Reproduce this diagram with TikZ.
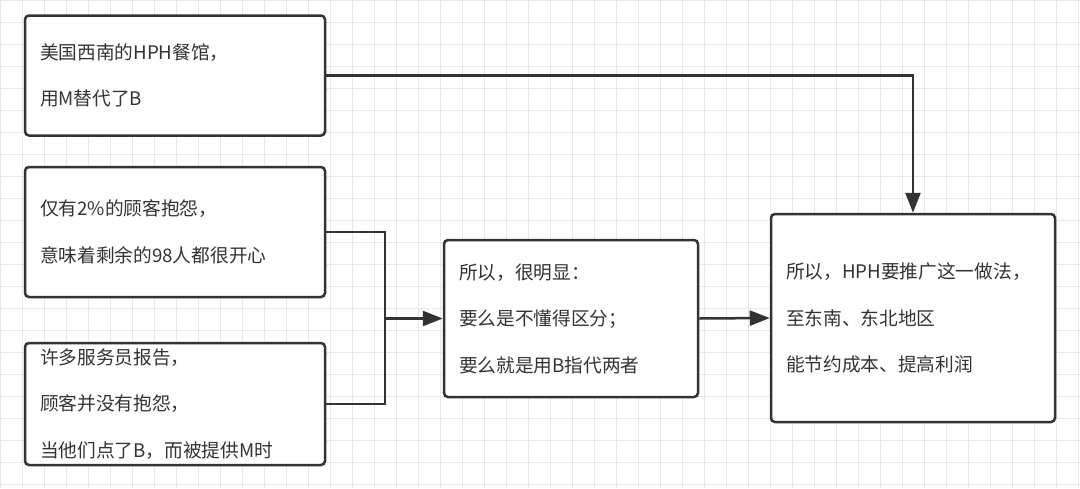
\documentclass[tikz,border=0pt]{standalone}
\usepackage{fontspec}
\usepackage{tikz}
\usetikzlibrary{arrows.meta}
\usepackage{xcolor}
\newfontfamily\cjk{Noto Sans CJK SC}
\definecolor{linegray}{HTML}{333333}
\definecolor{textgray}{HTML}{333333}
\definecolor{gridgray}{HTML}{E8E8E8}

\begin{document}
\begin{tikzpicture}[x=1pt,y=-1pt,
    gridline/.style={gridgray,line width=1pt},
    box/.style={draw=linegray,line width=2.5pt,rounded corners=4pt,fill=white,
        inner xsep=15pt,inner ysep=0pt,align=left,text=textgray,
        font=\cjk\fontsize{18.7}{46.5}\selectfont},
    conn/.style={draw=linegray,line width=2.5pt},
    arr/.style={conn,-{Triangle[length=20pt,width=15pt]}}]

    \useasboundingbox (0,0) rectangle (1080,488);
    \fill[white] (0,0) rectangle (1080,488);
    \foreach \i in {0,22,...,1078} \draw[gridline] (\i,0) -- (\i,488);
    \foreach \j in {0,22,...,486} \draw[gridline] (0,\j) -- (1080,\j);

    \node[box,text width=270pt,minimum height=120pt] (west) at (175,75.5)
        {美国西南的HPH餐馆，\\用M替代了B};
    \node[box,text width=270pt,minimum height=130pt] (few) at (175,232)
        {仅有2\%的顾客抱怨，\\意味着剩余的98人都很开心};
    \node[box,text width=270pt,minimum height=122pt] (waiter) at (175,404)
        {许多服务员报告，\\顾客并没有抱怨，\\当他们点了B，而被提供M时};
    \node[box,text width=224pt,minimum height=157pt] (so) at (571,318.5)
        {所以，很明显：\\要么是不懂得区分；\\要么就是用B指代两者};
    \node[box,text width=254pt,minimum height=208pt] (hph) at (913,318)
        {所以，HPH要推广这一做法，\\至东南、东北地区\\能节约成本、提高利润};

    \coordinate (join) at (385,318.5);
    \draw[conn] (few.east) -| (join) |- (waiter.east);
    \draw[arr] (join) -- (so.west);
    \draw[arr] (so.east) -- (hph.west);
    \draw[arr] (west.east) -| (hph.north);

\end{tikzpicture}
\end{document}
